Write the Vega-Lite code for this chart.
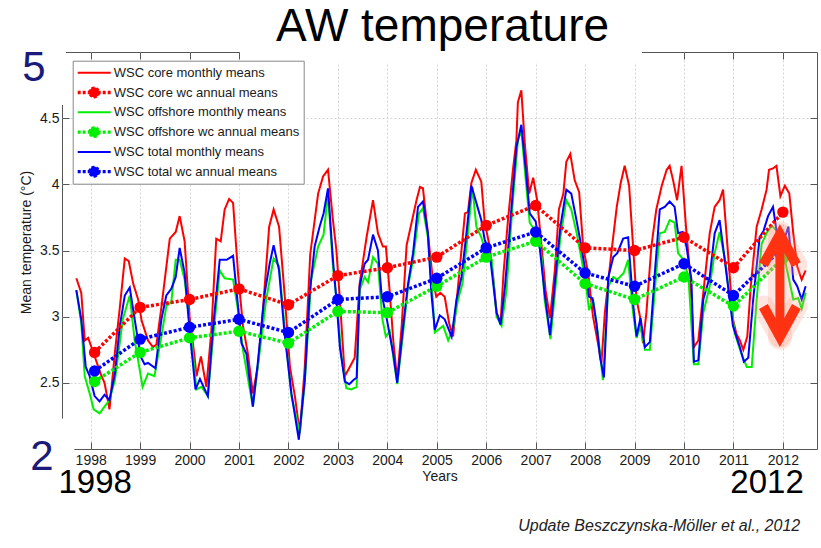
{
"$schema":"https://vega.github.io/schema/vega-lite/v6.json",
"width":755,"height":397,
"autosize":{"type":"none"},
"padding":{"left":62,"top":52,"right":4,"bottom":99},
"background":"white",
"config":{"view":{"stroke":"#555555","strokeWidth":1},"font":"Liberation Sans"},
"title":{"text":"AW temperature","fontSize":46,"fontWeight":"normal","color":"#000000","font":"Liberation Sans","anchor":"middle","offset":10,"dx":3,"dy":14},
"datasets":{
"monthly":[
{"series":"WSC core monthly means","year":1997.71,"temp":3.29},{"series":"WSC core monthly means","year":1997.81,"temp":3.18},{"series":"WSC core monthly means","year":1997.88,"temp":2.82},{"series":"WSC core monthly means","year":1997.95,"temp":2.84},{"series":"WSC core monthly means","year":1998.22,"temp":2.55},{"series":"WSC core monthly means","year":1998.28,"temp":2.5},{"series":"WSC core monthly means","year":1998.38,"temp":2.3},{"series":"WSC core monthly means","year":1998.49,"temp":2.73},{"series":"WSC core monthly means","year":1998.59,"temp":3.07},{"series":"WSC core monthly means","year":1998.69,"temp":3.44},{"series":"WSC core monthly means","year":1998.77,"temp":3.42},{"series":"WSC core monthly means","year":1998.86,"temp":3.25},{"series":"WSC core monthly means","year":1998.96,"temp":3.13},{"series":"WSC core monthly means","year":1999.03,"temp":2.97},{"series":"WSC core monthly means","year":1999.16,"temp":2.82},{"series":"WSC core monthly means","year":1999.26,"temp":2.77},{"series":"WSC core monthly means","year":1999.33,"temp":2.79},{"series":"WSC core monthly means","year":1999.43,"temp":3.07},{"series":"WSC core monthly means","year":1999.6,"temp":3.59},{"series":"WSC core monthly means","year":1999.72,"temp":3.64},{"series":"WSC core monthly means","year":1999.8,"temp":3.76},{"series":"WSC core monthly means","year":1999.9,"temp":3.57},{"series":"WSC core monthly means","year":2000.0,"temp":3.0},{"series":"WSC core monthly means","year":2000.1,"temp":2.7},{"series":"WSC core monthly means","year":2000.14,"temp":2.55},{"series":"WSC core monthly means","year":2000.23,"temp":2.7},{"series":"WSC core monthly means","year":2000.34,"temp":2.47},{"series":"WSC core monthly means","year":2000.44,"temp":2.89},{"series":"WSC core monthly means","year":2000.54,"temp":3.59},{"series":"WSC core monthly means","year":2000.63,"temp":3.57},{"series":"WSC core monthly means","year":2000.71,"temp":3.81},{"series":"WSC core monthly means","year":2000.8,"temp":3.89},{"series":"WSC core monthly means","year":2000.88,"temp":3.86},{"series":"WSC core monthly means","year":2000.98,"temp":3.33},{"series":"WSC core monthly means","year":2001.08,"temp":2.93},{"series":"WSC core monthly means","year":2001.18,"temp":2.72},{"series":"WSC core monthly means","year":2001.28,"temp":2.42},{"series":"WSC core monthly means","year":2001.38,"temp":2.62},{"series":"WSC core monthly means","year":2001.49,"temp":3.08},{"series":"WSC core monthly means","year":2001.61,"temp":3.68},{"series":"WSC core monthly means","year":2001.7,"temp":3.81},{"series":"WSC core monthly means","year":2001.81,"temp":3.68},{"series":"WSC core monthly means","year":2001.92,"temp":3.18},{"series":"WSC core monthly means","year":2002.03,"temp":2.62},{"series":"WSC core monthly means","year":2002.13,"temp":2.4},{"series":"WSC core monthly means","year":2002.23,"temp":2.12},{"series":"WSC core monthly means","year":2002.33,"temp":2.62},{"series":"WSC core monthly means","year":2002.44,"temp":3.47},{"series":"WSC core monthly means","year":2002.6,"temp":3.93},{"series":"WSC core monthly means","year":2002.7,"temp":4.06},{"series":"WSC core monthly means","year":2002.8,"temp":4.11},{"series":"WSC core monthly means","year":2002.9,"temp":3.73},{"series":"WSC core monthly means","year":2002.97,"temp":3.5},{"series":"WSC core monthly means","year":2003.04,"temp":3.13},{"series":"WSC core monthly means","year":2003.14,"temp":2.55},{"series":"WSC core monthly means","year":2003.24,"temp":2.62},{"series":"WSC core monthly means","year":2003.34,"temp":2.69},{"series":"WSC core monthly means","year":2003.44,"temp":3.25},{"series":"WSC core monthly means","year":2003.58,"temp":3.6},{"series":"WSC core monthly means","year":2003.71,"temp":3.88},{"series":"WSC core monthly means","year":2003.81,"temp":3.63},{"series":"WSC core monthly means","year":2003.91,"temp":3.53},{"series":"WSC core monthly means","year":2003.97,"temp":3.53},{"series":"WSC core monthly means","year":2004.05,"temp":3.18},{"series":"WSC core monthly means","year":2004.12,"temp":2.82},{"series":"WSC core monthly means","year":2004.2,"temp":2.52},{"series":"WSC core monthly means","year":2004.29,"temp":2.93},{"series":"WSC core monthly means","year":2004.39,"temp":3.54},{"series":"WSC core monthly means","year":2004.49,"temp":3.71},{"series":"WSC core monthly means","year":2004.59,"temp":3.88},{"series":"WSC core monthly means","year":2004.66,"temp":3.98},{"series":"WSC core monthly means","year":2004.72,"temp":3.97},{"series":"WSC core monthly means","year":2004.82,"temp":3.63},{"series":"WSC core monthly means","year":2004.92,"temp":3.28},{"series":"WSC core monthly means","year":2004.99,"temp":3.15},{"series":"WSC core monthly means","year":2005.07,"temp":3.18},{"series":"WSC core monthly means","year":2005.16,"temp":3.15},{"series":"WSC core monthly means","year":2005.25,"temp":2.95},{"series":"WSC core monthly means","year":2005.33,"temp":2.85},{"series":"WSC core monthly means","year":2005.43,"temp":3.23},{"series":"WSC core monthly means","year":2005.57,"temp":3.78},{"series":"WSC core monthly means","year":2005.63,"temp":3.79},{"series":"WSC core monthly means","year":2005.7,"temp":4.01},{"series":"WSC core monthly means","year":2005.79,"temp":4.11},{"series":"WSC core monthly means","year":2005.9,"temp":4.02},{"series":"WSC core monthly means","year":2005.97,"temp":3.71},{"series":"WSC core monthly means","year":2006.07,"temp":3.53},{"series":"WSC core monthly means","year":2006.14,"temp":3.3},{"series":"WSC core monthly means","year":2006.21,"temp":3.03},{"series":"WSC core monthly means","year":2006.29,"temp":2.95},{"series":"WSC core monthly means","year":2006.35,"temp":3.33},{"series":"WSC core monthly means","year":2006.44,"temp":3.73},{"series":"WSC core monthly means","year":2006.54,"temp":4.11},{"series":"WSC core monthly means","year":2006.61,"temp":4.33},{"series":"WSC core monthly means","year":2006.64,"temp":4.62},{"series":"WSC core monthly means","year":2006.71,"temp":4.71},{"series":"WSC core monthly means","year":2006.78,"temp":4.31},{"series":"WSC core monthly means","year":2006.87,"temp":3.93},{"series":"WSC core monthly means","year":2006.95,"temp":4.05},{"series":"WSC core monthly means","year":2007.03,"temp":3.88},{"series":"WSC core monthly means","year":2007.12,"temp":3.53},{"series":"WSC core monthly means","year":2007.2,"temp":3.2},{"series":"WSC core monthly means","year":2007.29,"temp":2.99},{"series":"WSC core monthly means","year":2007.39,"temp":3.36},{"series":"WSC core monthly means","year":2007.47,"temp":3.81},{"series":"WSC core monthly means","year":2007.56,"temp":3.93},{"series":"WSC core monthly means","year":2007.62,"temp":4.17},{"series":"WSC core monthly means","year":2007.7,"temp":4.23},{"series":"WSC core monthly means","year":2007.79,"temp":4.03},{"series":"WSC core monthly means","year":2007.88,"temp":3.94},{"series":"WSC core monthly means","year":2007.96,"temp":3.53},{"series":"WSC core monthly means","year":2008.06,"temp":3.33},{"series":"WSC core monthly means","year":2008.16,"temp":3.0},{"series":"WSC core monthly means","year":2008.26,"temp":2.8},{"series":"WSC core monthly means","year":2008.33,"temp":2.65},{"series":"WSC core monthly means","year":2008.4,"temp":3.03},{"series":"WSC core monthly means","year":2008.53,"temp":3.48},{"series":"WSC core monthly means","year":2008.64,"temp":3.83},{"series":"WSC core monthly means","year":2008.72,"temp":4.01},{"series":"WSC core monthly means","year":2008.8,"temp":4.14},{"series":"WSC core monthly means","year":2008.89,"temp":3.99},{"series":"WSC core monthly means","year":2008.97,"temp":3.53},{"series":"WSC core monthly means","year":2009.04,"temp":3.13},{"series":"WSC core monthly means","year":2009.11,"temp":3.0},{"series":"WSC core monthly means","year":2009.17,"temp":2.8},{"series":"WSC core monthly means","year":2009.24,"temp":3.03},{"series":"WSC core monthly means","year":2009.34,"temp":3.53},{"series":"WSC core monthly means","year":2009.44,"temp":3.81},{"series":"WSC core monthly means","year":2009.55,"temp":3.99},{"series":"WSC core monthly means","year":2009.65,"temp":4.11},{"series":"WSC core monthly means","year":2009.71,"temp":4.14},{"series":"WSC core monthly means","year":2009.78,"temp":4.03},{"series":"WSC core monthly means","year":2009.86,"temp":3.88},{"series":"WSC core monthly means","year":2009.95,"temp":4.14},{"series":"WSC core monthly means","year":2010.04,"temp":3.68},{"series":"WSC core monthly means","year":2010.12,"temp":3.33},{"series":"WSC core monthly means","year":2010.2,"temp":2.77},{"series":"WSC core monthly means","year":2010.29,"temp":2.82},{"series":"WSC core monthly means","year":2010.39,"temp":3.18},{"series":"WSC core monthly means","year":2010.52,"temp":3.63},{"series":"WSC core monthly means","year":2010.62,"temp":3.83},{"series":"WSC core monthly means","year":2010.72,"temp":3.88},{"series":"WSC core monthly means","year":2010.79,"temp":3.96},{"series":"WSC core monthly means","year":2010.89,"temp":3.48},{"series":"WSC core monthly means","year":2010.99,"temp":2.98},{"series":"WSC core monthly means","year":2011.06,"temp":2.87},{"series":"WSC core monthly means","year":2011.13,"temp":2.82},{"series":"WSC core monthly means","year":2011.2,"temp":2.75},{"series":"WSC core monthly means","year":2011.28,"temp":2.85},{"series":"WSC core monthly means","year":2011.35,"temp":3.23},{"series":"WSC core monthly means","year":2011.47,"temp":3.68},{"series":"WSC core monthly means","year":2011.57,"temp":3.81},{"series":"WSC core monthly means","year":2011.67,"temp":3.96},{"series":"WSC core monthly means","year":2011.72,"temp":4.11},{"series":"WSC core monthly means","year":2011.8,"temp":4.12},{"series":"WSC core monthly means","year":2011.87,"temp":4.14},{"series":"WSC core monthly means","year":2011.95,"temp":3.91},{"series":"WSC core monthly means","year":2012.04,"temp":3.99},{"series":"WSC core monthly means","year":2012.13,"temp":3.93},{"series":"WSC core monthly means","year":2012.21,"temp":3.63},{"series":"WSC core monthly means","year":2012.29,"temp":3.38},{"series":"WSC core monthly means","year":2012.38,"temp":3.28},{"series":"WSC core monthly means","year":2012.46,"temp":3.35},
{"series":"WSC offshore monthly means","year":1997.71,"temp":3.2},{"series":"WSC offshore monthly means","year":1997.81,"temp":2.95},{"series":"WSC offshore monthly means","year":1997.88,"temp":2.55},{"series":"WSC offshore monthly means","year":1997.98,"temp":2.42},{"series":"WSC offshore monthly means","year":1998.06,"temp":2.3},{"series":"WSC offshore monthly means","year":1998.18,"temp":2.27},{"series":"WSC offshore monthly means","year":1998.28,"temp":2.32},{"series":"WSC offshore monthly means","year":1998.38,"temp":2.37},{"series":"WSC offshore monthly means","year":1998.49,"temp":2.52},{"series":"WSC offshore monthly means","year":1998.65,"temp":2.98},{"series":"WSC offshore monthly means","year":1998.79,"temp":3.16},{"series":"WSC offshore monthly means","year":1998.89,"temp":2.82},{"series":"WSC offshore monthly means","year":1998.96,"temp":2.67},{"series":"WSC offshore monthly means","year":1999.05,"temp":2.47},{"series":"WSC offshore monthly means","year":1999.16,"temp":2.57},{"series":"WSC offshore monthly means","year":1999.29,"temp":2.55},{"series":"WSC offshore monthly means","year":1999.43,"temp":2.85},{"series":"WSC offshore monthly means","year":1999.53,"temp":3.08},{"series":"WSC offshore monthly means","year":1999.63,"temp":3.11},{"series":"WSC offshore monthly means","year":1999.72,"temp":3.43},{"series":"WSC offshore monthly means","year":1999.8,"temp":3.43},{"series":"WSC offshore monthly means","year":1999.9,"temp":3.28},{"series":"WSC offshore monthly means","year":2000.04,"temp":2.82},{"series":"WSC offshore monthly means","year":2000.14,"temp":2.45},{"series":"WSC offshore monthly means","year":2000.24,"temp":2.47},{"series":"WSC offshore monthly means","year":2000.37,"temp":2.4},{"series":"WSC offshore monthly means","year":2000.47,"temp":2.82},{"series":"WSC offshore monthly means","year":2000.61,"temp":3.35},{"series":"WSC offshore monthly means","year":2000.71,"temp":3.29},{"series":"WSC offshore monthly means","year":2000.88,"temp":3.28},{"series":"WSC offshore monthly means","year":2000.98,"temp":3.05},{"series":"WSC offshore monthly means","year":2001.08,"temp":2.75},{"series":"WSC offshore monthly means","year":2001.28,"temp":2.32},{"series":"WSC offshore monthly means","year":2001.38,"temp":2.62},{"series":"WSC offshore monthly means","year":2001.55,"temp":3.13},{"series":"WSC offshore monthly means","year":2001.7,"temp":3.44},{"series":"WSC offshore monthly means","year":2001.81,"temp":3.38},{"series":"WSC offshore monthly means","year":2001.96,"temp":2.77},{"series":"WSC offshore monthly means","year":2002.06,"temp":2.4},{"series":"WSC offshore monthly means","year":2002.23,"temp":2.12},{"series":"WSC offshore monthly means","year":2002.33,"temp":2.5},{"series":"WSC offshore monthly means","year":2002.46,"temp":3.28},{"series":"WSC offshore monthly means","year":2002.6,"temp":3.53},{"series":"WSC offshore monthly means","year":2002.71,"temp":3.62},{"series":"WSC offshore monthly means","year":2002.8,"temp":3.93},{"series":"WSC offshore monthly means","year":2002.9,"temp":3.38},{"series":"WSC offshore monthly means","year":2003.0,"temp":3.03},{"series":"WSC offshore monthly means","year":2003.07,"temp":2.7},{"series":"WSC offshore monthly means","year":2003.17,"temp":2.46},{"series":"WSC offshore monthly means","year":2003.27,"temp":2.45},{"series":"WSC offshore monthly means","year":2003.38,"temp":2.47},{"series":"WSC offshore monthly means","year":2003.44,"temp":3.2},{"series":"WSC offshore monthly means","year":2003.54,"temp":3.3},{"series":"WSC offshore monthly means","year":2003.61,"temp":3.26},{"series":"WSC offshore monthly means","year":2003.71,"temp":3.45},{"series":"WSC offshore monthly means","year":2003.81,"temp":3.4},{"series":"WSC offshore monthly means","year":2003.9,"temp":2.98},{"series":"WSC offshore monthly means","year":2003.97,"temp":2.85},{"series":"WSC offshore monthly means","year":2004.05,"temp":2.89},{"series":"WSC offshore monthly means","year":2004.13,"temp":2.67},{"series":"WSC offshore monthly means","year":2004.2,"temp":2.49},{"series":"WSC offshore monthly means","year":2004.32,"temp":2.88},{"series":"WSC offshore monthly means","year":2004.42,"temp":3.23},{"series":"WSC offshore monthly means","year":2004.52,"temp":3.43},{"series":"WSC offshore monthly means","year":2004.64,"temp":3.78},{"series":"WSC offshore monthly means","year":2004.72,"temp":3.82},{"series":"WSC offshore monthly means","year":2004.82,"temp":3.6},{"series":"WSC offshore monthly means","year":2004.91,"temp":3.18},{"series":"WSC offshore monthly means","year":2004.96,"temp":2.88},{"series":"WSC offshore monthly means","year":2005.06,"temp":2.91},{"series":"WSC offshore monthly means","year":2005.13,"temp":2.93},{"series":"WSC offshore monthly means","year":2005.23,"temp":2.82},{"series":"WSC offshore monthly means","year":2005.33,"temp":2.91},{"series":"WSC offshore monthly means","year":2005.43,"temp":3.13},{"series":"WSC offshore monthly means","year":2005.52,"temp":3.25},{"series":"WSC offshore monthly means","year":2005.63,"temp":3.63},{"series":"WSC offshore monthly means","year":2005.72,"temp":3.98},{"series":"WSC offshore monthly means","year":2005.8,"temp":3.68},{"series":"WSC offshore monthly means","year":2005.9,"temp":3.6},{"series":"WSC offshore monthly means","year":2006.0,"temp":3.48},{"series":"WSC offshore monthly means","year":2006.11,"temp":3.43},{"series":"WSC offshore monthly means","year":2006.21,"temp":3.0},{"series":"WSC offshore monthly means","year":2006.31,"temp":2.93},{"series":"WSC offshore monthly means","year":2006.41,"temp":3.2},{"series":"WSC offshore monthly means","year":2006.54,"temp":3.88},{"series":"WSC offshore monthly means","year":2006.64,"temp":4.33},{"series":"WSC offshore monthly means","year":2006.71,"temp":4.41},{"series":"WSC offshore monthly means","year":2006.8,"temp":4.03},{"series":"WSC offshore monthly means","year":2006.88,"temp":3.71},{"series":"WSC offshore monthly means","year":2007.02,"temp":3.63},{"series":"WSC offshore monthly means","year":2007.12,"temp":3.45},{"series":"WSC offshore monthly means","year":2007.18,"temp":3.13},{"series":"WSC offshore monthly means","year":2007.3,"temp":2.83},{"series":"WSC offshore monthly means","year":2007.39,"temp":3.18},{"series":"WSC offshore monthly means","year":2007.5,"temp":3.6},{"series":"WSC offshore monthly means","year":2007.62,"temp":3.88},{"series":"WSC offshore monthly means","year":2007.72,"temp":3.81},{"series":"WSC offshore monthly means","year":2007.83,"temp":3.63},{"series":"WSC offshore monthly means","year":2007.93,"temp":3.43},{"series":"WSC offshore monthly means","year":2008.03,"temp":3.2},{"series":"WSC offshore monthly means","year":2008.08,"temp":3.05},{"series":"WSC offshore monthly means","year":2008.16,"temp":3.13},{"series":"WSC offshore monthly means","year":2008.26,"temp":2.87},{"series":"WSC offshore monthly means","year":2008.36,"temp":2.52},{"series":"WSC offshore monthly means","year":2008.47,"temp":3.23},{"series":"WSC offshore monthly means","year":2008.57,"temp":3.3},{"series":"WSC offshore monthly means","year":2008.65,"temp":3.28},{"series":"WSC offshore monthly means","year":2008.78,"temp":3.33},{"series":"WSC offshore monthly means","year":2008.87,"temp":3.43},{"series":"WSC offshore monthly means","year":2008.97,"temp":3.03},{"series":"WSC offshore monthly means","year":2009.04,"temp":2.84},{"series":"WSC offshore monthly means","year":2009.12,"temp":2.93},{"series":"WSC offshore monthly means","year":2009.21,"temp":2.75},{"series":"WSC offshore monthly means","year":2009.31,"temp":2.75},{"series":"WSC offshore monthly means","year":2009.41,"temp":3.2},{"series":"WSC offshore monthly means","year":2009.51,"temp":3.63},{"series":"WSC offshore monthly means","year":2009.61,"temp":3.64},{"series":"WSC offshore monthly means","year":2009.71,"temp":3.73},{"series":"WSC offshore monthly means","year":2009.81,"temp":3.71},{"series":"WSC offshore monthly means","year":2009.88,"temp":3.48},{"series":"WSC offshore monthly means","year":2009.99,"temp":3.43},{"series":"WSC offshore monthly means","year":2010.09,"temp":3.3},{"series":"WSC offshore monthly means","year":2010.2,"temp":2.64},{"series":"WSC offshore monthly means","year":2010.29,"temp":2.64},{"series":"WSC offshore monthly means","year":2010.39,"temp":3.03},{"series":"WSC offshore monthly means","year":2010.52,"temp":3.23},{"series":"WSC offshore monthly means","year":2010.62,"temp":3.48},{"series":"WSC offshore monthly means","year":2010.72,"temp":3.64},{"series":"WSC offshore monthly means","year":2010.83,"temp":3.43},{"series":"WSC offshore monthly means","year":2010.93,"temp":3.13},{"series":"WSC offshore monthly means","year":2011.03,"temp":2.87},{"series":"WSC offshore monthly means","year":2011.16,"temp":2.72},{"series":"WSC offshore monthly means","year":2011.27,"temp":2.62},{"series":"WSC offshore monthly means","year":2011.37,"temp":2.62},{"series":"WSC offshore monthly means","year":2011.47,"temp":3.13},{"series":"WSC offshore monthly means","year":2011.57,"temp":3.55},{"series":"WSC offshore monthly means","year":2011.67,"temp":3.63},{"series":"WSC offshore monthly means","year":2011.77,"temp":3.69},{"series":"WSC offshore monthly means","year":2011.87,"temp":3.65},{"series":"WSC offshore monthly means","year":2012.04,"temp":3.43},{"series":"WSC offshore monthly means","year":2012.21,"temp":3.13},{"series":"WSC offshore monthly means","year":2012.31,"temp":3.14},{"series":"WSC offshore monthly means","year":2012.38,"temp":3.06},{"series":"WSC offshore monthly means","year":2012.46,"temp":3.18},
{"series":"WSC total monthly means","year":1997.71,"temp":3.2},{"series":"WSC total monthly means","year":1997.81,"temp":2.98},{"series":"WSC total monthly means","year":1997.9,"temp":2.62},{"series":"WSC total monthly means","year":1997.98,"temp":2.55},{"series":"WSC total monthly means","year":1998.08,"temp":2.4},{"series":"WSC total monthly means","year":1998.18,"temp":2.36},{"series":"WSC total monthly means","year":1998.28,"temp":2.41},{"series":"WSC total monthly means","year":1998.38,"temp":2.37},{"series":"WSC total monthly means","year":1998.49,"temp":2.57},{"series":"WSC total monthly means","year":1998.59,"temp":2.93},{"series":"WSC total monthly means","year":1998.69,"temp":3.16},{"series":"WSC total monthly means","year":1998.79,"temp":3.22},{"series":"WSC total monthly means","year":1998.89,"temp":2.98},{"series":"WSC total monthly means","year":1999.01,"temp":2.7},{"series":"WSC total monthly means","year":1999.09,"temp":2.64},{"series":"WSC total monthly means","year":1999.16,"temp":2.65},{"series":"WSC total monthly means","year":1999.31,"temp":2.61},{"series":"WSC total monthly means","year":1999.43,"temp":2.98},{"series":"WSC total monthly means","year":1999.53,"temp":3.16},{"series":"WSC total monthly means","year":1999.63,"temp":3.21},{"series":"WSC total monthly means","year":1999.72,"temp":3.3},{"series":"WSC total monthly means","year":1999.8,"temp":3.52},{"series":"WSC total monthly means","year":1999.9,"temp":3.33},{"series":"WSC total monthly means","year":2000.0,"temp":2.9},{"series":"WSC total monthly means","year":2000.12,"temp":2.45},{"series":"WSC total monthly means","year":2000.21,"temp":2.53},{"series":"WSC total monthly means","year":2000.37,"temp":2.4},{"series":"WSC total monthly means","year":2000.47,"temp":2.9},{"series":"WSC total monthly means","year":2000.61,"temp":3.43},{"series":"WSC total monthly means","year":2000.75,"temp":3.43},{"series":"WSC total monthly means","year":2000.88,"temp":3.46},{"series":"WSC total monthly means","year":2000.98,"temp":3.08},{"series":"WSC total monthly means","year":2001.05,"temp":2.8},{"series":"WSC total monthly means","year":2001.15,"temp":2.72},{"series":"WSC total monthly means","year":2001.28,"temp":2.32},{"series":"WSC total monthly means","year":2001.38,"temp":2.65},{"series":"WSC total monthly means","year":2001.52,"temp":3.18},{"series":"WSC total monthly means","year":2001.62,"temp":3.4},{"series":"WSC total monthly means","year":2001.7,"temp":3.54},{"series":"WSC total monthly means","year":2001.81,"temp":3.35},{"series":"WSC total monthly means","year":2001.92,"temp":2.88},{"series":"WSC total monthly means","year":2002.06,"temp":2.42},{"series":"WSC total monthly means","year":2002.21,"temp":2.07},{"series":"WSC total monthly means","year":2002.33,"temp":2.52},{"series":"WSC total monthly means","year":2002.43,"temp":3.18},{"series":"WSC total monthly means","year":2002.53,"temp":3.53},{"series":"WSC total monthly means","year":2002.63,"temp":3.68},{"series":"WSC total monthly means","year":2002.71,"temp":3.78},{"series":"WSC total monthly means","year":2002.8,"temp":3.97},{"series":"WSC total monthly means","year":2002.9,"temp":3.43},{"series":"WSC total monthly means","year":2002.97,"temp":3.13},{"series":"WSC total monthly means","year":2003.04,"temp":2.77},{"series":"WSC total monthly means","year":2003.14,"temp":2.51},{"series":"WSC total monthly means","year":2003.23,"temp":2.49},{"series":"WSC total monthly means","year":2003.31,"temp":2.52},{"series":"WSC total monthly means","year":2003.38,"temp":2.54},{"series":"WSC total monthly means","year":2003.44,"temp":3.23},{"series":"WSC total monthly means","year":2003.54,"temp":3.4},{"series":"WSC total monthly means","year":2003.61,"temp":3.43},{"series":"WSC total monthly means","year":2003.71,"temp":3.62},{"series":"WSC total monthly means","year":2003.81,"temp":3.5},{"series":"WSC total monthly means","year":2003.88,"temp":3.18},{"series":"WSC total monthly means","year":2003.98,"temp":3.0},{"series":"WSC total monthly means","year":2004.12,"temp":2.72},{"series":"WSC total monthly means","year":2004.2,"temp":2.5},{"series":"WSC total monthly means","year":2004.32,"temp":2.93},{"series":"WSC total monthly means","year":2004.42,"temp":3.25},{"series":"WSC total monthly means","year":2004.52,"temp":3.48},{"series":"WSC total monthly means","year":2004.62,"temp":3.83},{"series":"WSC total monthly means","year":2004.72,"temp":3.87},{"series":"WSC total monthly means","year":2004.82,"temp":3.63},{"series":"WSC total monthly means","year":2004.89,"temp":3.18},{"series":"WSC total monthly means","year":2004.96,"temp":2.9},{"series":"WSC total monthly means","year":2005.06,"temp":3.01},{"series":"WSC total monthly means","year":2005.16,"temp":2.98},{"series":"WSC total monthly means","year":2005.3,"temp":2.85},{"series":"WSC total monthly means","year":2005.4,"temp":3.13},{"series":"WSC total monthly means","year":2005.5,"temp":3.3},{"series":"WSC total monthly means","year":2005.6,"temp":3.63},{"series":"WSC total monthly means","year":2005.7,"temp":3.99},{"series":"WSC total monthly means","year":2005.8,"temp":3.86},{"series":"WSC total monthly means","year":2005.9,"temp":3.73},{"series":"WSC total monthly means","year":2005.97,"temp":3.58},{"series":"WSC total monthly means","year":2006.07,"temp":3.48},{"series":"WSC total monthly means","year":2006.21,"temp":3.03},{"series":"WSC total monthly means","year":2006.29,"temp":2.94},{"series":"WSC total monthly means","year":2006.38,"temp":3.23},{"series":"WSC total monthly means","year":2006.48,"temp":3.68},{"series":"WSC total monthly means","year":2006.61,"temp":4.28},{"series":"WSC total monthly means","year":2006.71,"temp":4.45},{"series":"WSC total monthly means","year":2006.8,"temp":4.11},{"series":"WSC total monthly means","year":2006.88,"temp":3.78},{"series":"WSC total monthly means","year":2007.0,"temp":3.72},{"series":"WSC total monthly means","year":2007.08,"temp":3.53},{"series":"WSC total monthly means","year":2007.18,"temp":3.18},{"series":"WSC total monthly means","year":2007.29,"temp":2.86},{"series":"WSC total monthly means","year":2007.39,"temp":3.26},{"series":"WSC total monthly means","year":2007.5,"temp":3.68},{"series":"WSC total monthly means","year":2007.62,"temp":3.96},{"series":"WSC total monthly means","year":2007.72,"temp":3.93},{"series":"WSC total monthly means","year":2007.81,"temp":3.76},{"series":"WSC total monthly means","year":2007.89,"temp":3.6},{"series":"WSC total monthly means","year":2007.99,"temp":3.38},{"series":"WSC total monthly means","year":2008.08,"temp":3.15},{"series":"WSC total monthly means","year":2008.15,"temp":3.14},{"series":"WSC total monthly means","year":2008.23,"temp":2.95},{"series":"WSC total monthly means","year":2008.3,"temp":2.7},{"series":"WSC total monthly means","year":2008.38,"temp":2.54},{"series":"WSC total monthly means","year":2008.47,"temp":3.3},{"series":"WSC total monthly means","year":2008.57,"temp":3.45},{"series":"WSC total monthly means","year":2008.65,"temp":3.48},{"series":"WSC total monthly means","year":2008.77,"temp":3.59},{"series":"WSC total monthly means","year":2008.87,"temp":3.6},{"series":"WSC total monthly means","year":2008.97,"temp":3.1},{"series":"WSC total monthly means","year":2009.04,"temp":2.85},{"series":"WSC total monthly means","year":2009.12,"temp":2.99},{"series":"WSC total monthly means","year":2009.21,"temp":2.77},{"series":"WSC total monthly means","year":2009.31,"temp":2.81},{"series":"WSC total monthly means","year":2009.41,"temp":3.33},{"series":"WSC total monthly means","year":2009.51,"temp":3.81},{"series":"WSC total monthly means","year":2009.61,"temp":3.83},{"series":"WSC total monthly means","year":2009.71,"temp":3.87},{"series":"WSC total monthly means","year":2009.81,"temp":3.83},{"series":"WSC total monthly means","year":2009.88,"temp":3.63},{"series":"WSC total monthly means","year":2009.97,"temp":3.64},{"series":"WSC total monthly means","year":2010.05,"temp":3.53},{"series":"WSC total monthly means","year":2010.15,"temp":3.28},{"series":"WSC total monthly means","year":2010.2,"temp":2.66},{"series":"WSC total monthly means","year":2010.29,"temp":2.67},{"series":"WSC total monthly means","year":2010.39,"temp":3.13},{"series":"WSC total monthly means","year":2010.52,"temp":3.3},{"series":"WSC total monthly means","year":2010.62,"temp":3.63},{"series":"WSC total monthly means","year":2010.72,"temp":3.73},{"series":"WSC total monthly means","year":2010.79,"temp":3.53},{"series":"WSC total monthly means","year":2010.89,"temp":3.23},{"series":"WSC total monthly means","year":2010.99,"temp":2.93},{"series":"WSC total monthly means","year":2011.13,"temp":2.77},{"series":"WSC total monthly means","year":2011.21,"temp":2.66},{"series":"WSC total monthly means","year":2011.3,"temp":2.69},{"series":"WSC total monthly means","year":2011.4,"temp":3.13},{"series":"WSC total monthly means","year":2011.53,"temp":3.6},{"series":"WSC total monthly means","year":2011.61,"temp":3.65},{"series":"WSC total monthly means","year":2011.7,"temp":3.76},{"series":"WSC total monthly means","year":2011.8,"temp":3.83},{"series":"WSC total monthly means","year":2011.88,"temp":3.63},{"series":"WSC total monthly means","year":2012.0,"temp":3.55},{"series":"WSC total monthly means","year":2012.11,"temp":3.68},{"series":"WSC total monthly means","year":2012.21,"temp":3.28},{"series":"WSC total monthly means","year":2012.29,"temp":3.23},{"series":"WSC total monthly means","year":2012.38,"temp":3.13},{"series":"WSC total monthly means","year":2012.46,"temp":3.23}
],
"annual":[
{"series":"WSC core wc annual means","year":1998.08,"temp":2.73},{"series":"WSC core wc annual means","year":1999,"temp":3.07},{"series":"WSC core wc annual means","year":2000,"temp":3.13},{"series":"WSC core wc annual means","year":2001,"temp":3.21},{"series":"WSC core wc annual means","year":2002,"temp":3.09},{"series":"WSC core wc annual means","year":2003,"temp":3.31},{"series":"WSC core wc annual means","year":2004,"temp":3.37},{"series":"WSC core wc annual means","year":2005,"temp":3.45},{"series":"WSC core wc annual means","year":2006,"temp":3.69},{"series":"WSC core wc annual means","year":2007,"temp":3.84},{"series":"WSC core wc annual means","year":2008,"temp":3.52},{"series":"WSC core wc annual means","year":2009,"temp":3.5},{"series":"WSC core wc annual means","year":2010,"temp":3.6},{"series":"WSC core wc annual means","year":2011,"temp":3.37},{"series":"WSC core wc annual means","year":2012,"temp":3.79},
{"series":"WSC offshore wc annual means","year":1998.08,"temp":2.51},{"series":"WSC offshore wc annual means","year":1999,"temp":2.73},{"series":"WSC offshore wc annual means","year":2000,"temp":2.84},{"series":"WSC offshore wc annual means","year":2001,"temp":2.89},{"series":"WSC offshore wc annual means","year":2002,"temp":2.8},{"series":"WSC offshore wc annual means","year":2003,"temp":3.04},{"series":"WSC offshore wc annual means","year":2004,"temp":3.03},{"series":"WSC offshore wc annual means","year":2005,"temp":3.23},{"series":"WSC offshore wc annual means","year":2006,"temp":3.45},{"series":"WSC offshore wc annual means","year":2007,"temp":3.57},{"series":"WSC offshore wc annual means","year":2008,"temp":3.25},{"series":"WSC offshore wc annual means","year":2009,"temp":3.13},{"series":"WSC offshore wc annual means","year":2010,"temp":3.3},{"series":"WSC offshore wc annual means","year":2011,"temp":3.08},{"series":"WSC offshore wc annual means","year":2012,"temp":3.44},
{"series":"WSC total wc annual means","year":1998.08,"temp":2.59},{"series":"WSC total wc annual means","year":1999,"temp":2.83},{"series":"WSC total wc annual means","year":2000,"temp":2.92},{"series":"WSC total wc annual means","year":2001,"temp":2.98},{"series":"WSC total wc annual means","year":2002,"temp":2.88},{"series":"WSC total wc annual means","year":2003,"temp":3.13},{"series":"WSC total wc annual means","year":2004,"temp":3.15},{"series":"WSC total wc annual means","year":2005,"temp":3.29},{"series":"WSC total wc annual means","year":2006,"temp":3.52},{"series":"WSC total wc annual means","year":2007,"temp":3.64},{"series":"WSC total wc annual means","year":2008,"temp":3.33},{"series":"WSC total wc annual means","year":2009,"temp":3.23},{"series":"WSC total wc annual means","year":2010,"temp":3.4},{"series":"WSC total wc annual means","year":2011,"temp":3.16},{"series":"WSC total wc annual means","year":2012,"temp":3.52}
]},
"layer":[
{"data":{"name":"monthly"},"mark":{"type":"line","strokeWidth":2},
 "encoding":{
  "x":{"field":"year","type":"quantitative","scale":{"domain":[1997.42,2012.69],"nice":false,"zero":false},
       "axis":{"orient":"bottom","values":[1998,1999,2000,2001,2002,2003,2004,2005,2006,2007,2008,2009,2010,2011,2012],"format":"d","title":"Years","grid":true,"gridColor":"#d4d4d4","gridDash":[2,2],"domain":false,"tickSize":-7,"tickColor":"#555555","labelFontSize":14,"labelColor":"#1a1a1a","labelPadding":11,"labelFlush":false,"labelOverlap":false,"titleFontSize":14,"titleFontWeight":"normal","titleColor":"#1a1a1a","titlePadding":2}},
  "y":{"field":"temp","type":"quantitative","scale":{"domain":[2,5],"nice":false,"zero":false},
       "axis":{"orient":"left","values":[2.5,3,3.5,4,4.5],"format":"~g","title":"Mean temperature (°C)","grid":true,"gridColor":"#d4d4d4","gridDash":[2,2],"domain":false,"tickSize":-7,"tickColor":"#555555","labelFontSize":14,"labelColor":"#1a1a1a","labelPadding":10,"titleFontSize":14,"titleFontWeight":"normal","titleColor":"#1a1a1a","titlePadding":6,"titleY":190}},
  "color":{"field":"series","type":"nominal",
       "scale":{"domain":["WSC core monthly means","WSC core wc annual means","WSC offshore monthly means","WSC offshore wc annual means","WSC total monthly means","WSC total wc annual means"],"range":["#ff0000","#ff0000","#00ee00","#00ee00","#0000ff","#0000ff"]},
       "legend":{"orient":"none","legendX":10.7,"legendY":8.7,"title":null,"fillColor":"white","strokeColor":"#888888","padding":4,"labelFontSize":13,"labelColor":"#1a1a1a","labelLimit":400,"labelOffset":2,"symbolType":"stroke","symbolSize":1089,"symbolStrokeWidth":2,"clipHeight":16,"rowPadding":3.8,
         "encode":{"symbols":{"update":{
            "shape":{"signal":"indexof(''+datum.label,'annual')>=0 ? 'M-1,-0.04L1,-0.04M-1,0.04L1,0.04M0.3,0A0.3,0.3,0,1,1,-0.3,0A0.3,0.3,0,1,1,0.3,0' : 'M0,-0.3M-1,0L1,0M0,0.3'"},
            "strokeDash":{"signal":"indexof(''+datum.label,'annual')>=0 ? [3,2] : [1,0]"},
            "fill":{"scale":"color","field":"value"},
            "fillOpacity":{"signal":"indexof(''+datum.label,'annual')>=0 ? 1 : 0"}}}}}}
 }},
{"data":{"name":"annual"},"mark":{"type":"line","strokeWidth":3.5,"strokeDash":[3,2]},
 "encoding":{
  "x":{"field":"year","type":"quantitative","axis":{"orient":"top","values":[1998,1999,2000,2001,2002,2003,2004,2005,2006,2007,2008,2009,2010,2011,2012],"labels":false,"title":null,"grid":false,"domain":false,"tickSize":-7,"tickColor":"#555555"}},
  "y":{"field":"temp","type":"quantitative","axis":{"orient":"right","values":[2.5,3,3.5,4,4.5],"labels":false,"title":null,"grid":false,"domain":false,"tickSize":-7,"tickColor":"#555555"}},
  "color":{"field":"series","type":"nominal"}
 }},
{"data":{"name":"annual"},"mark":{"type":"circle","size":130,"opacity":1},
 "encoding":{
  "x":{"field":"year","type":"quantitative","axis":null},
  "y":{"field":"temp","type":"quantitative","axis":null},
  "color":{"field":"series","type":"nominal"}
 }},
{"data":{"values":[{}]},"mark":{"type":"rect","color":"white","opacity":1},
 "encoding":{"x":{"datum":2001.02,"type":"quantitative","axis":null},"x2":{"datum":2009.15},
  "y":{"datum":4.92,"type":"quantitative","axis":null},"y2":{"datum":5.008}}},
{"data":{"values":[{}]},"mark":{"type":"rect","color":"white","opacity":1},
 "encoding":{"x":{"datum":1997.1,"type":"quantitative","axis":null},"x2":{"datum":1997.5},
  "y":{"datum":4.6,"type":"quantitative","axis":null},"y2":{"datum":5.02}}},
{"data":{"values":[{}]},"mark":{"type":"rect","color":"white","opacity":1},
 "encoding":{"x":{"datum":1997.1,"type":"quantitative","axis":null},"x2":{"datum":1997.67},
  "y":{"datum":1.96,"type":"quantitative","axis":null},"y2":{"datum":2.23}}},
{"data":{"values":[{}]},"mark":{"type":"rule","color":"#ff9a85","strokeWidth":24,"opacity":0.25,"strokeCap":"round"},
 "encoding":{"x":{"datum":2011.94,"type":"quantitative","axis":null},
  "y":{"datum":2.84,"type":"quantitative","axis":null},"y2":{"datum":3.63}}},
{"data":{"values":[{}]},"mark":{"type":"point","shape":"M-0.55,1L0,0L0.55,1","size":3600,"filled":false,"color":"#ff9a85","strokeWidth":22,"opacity":0.25,"strokeJoin":"round","strokeCap":"round"},
 "encoding":{"x":{"datum":2011.94,"type":"quantitative","axis":null},
  "y":{"datum":3.62,"type":"quantitative","axis":null}}},
{"data":{"values":[{}]},"mark":{"type":"point","shape":"M-0.55,-1L0,0L0.55,-1","size":3600,"filled":false,"color":"#ff9a85","strokeWidth":22,"opacity":0.25,"strokeJoin":"round","strokeCap":"round"},
 "encoding":{"x":{"datum":2011.94,"type":"quantitative","axis":null},
  "y":{"datum":2.85,"type":"quantitative","axis":null}}},
{"data":{"values":[{}]},"mark":{"type":"rule","color":"#ff3311","strokeWidth":9,"strokeCap":"butt"},
 "encoding":{"x":{"datum":2011.94,"type":"quantitative","axis":null},
  "y":{"datum":2.86,"type":"quantitative","axis":null},"y2":{"datum":3.61}}},
{"data":{"values":[{}]},"mark":{"type":"point","shape":"M-0.55,1L0,0L0.55,1","size":3600,"filled":false,"color":"#ff3311","strokeWidth":10,"opacity":1,"strokeJoin":"miter","strokeCap":"butt"},
 "encoding":{"x":{"datum":2011.94,"type":"quantitative","axis":null},
  "y":{"datum":3.62,"type":"quantitative","axis":null}}},
{"data":{"values":[{}]},"mark":{"type":"point","shape":"M-0.55,-1L0,0L0.55,-1","size":3600,"filled":false,"color":"#ff3311","strokeWidth":10,"opacity":1,"strokeJoin":"miter","strokeCap":"butt"},
 "encoding":{"x":{"datum":2011.94,"type":"quantitative","axis":null},
  "y":{"datum":2.85,"type":"quantitative","axis":null}}},
{"data":{"values":[{}]},"mark":{"type":"text","text":"5","fontSize":42,"color":"#1a1a7a","align":"center","baseline":"middle","font":"Liberation Sans"},
 "encoding":{"x":{"datum":1996.85,"type":"quantitative","axis":null},
  "y":{"datum":4.88,"type":"quantitative","axis":null}}},
{"data":{"values":[{}]},"mark":{"type":"text","text":"2","fontSize":42,"color":"#1a1a7a","align":"center","baseline":"middle","font":"Liberation Sans"},
 "encoding":{"x":{"datum":1997.015,"type":"quantitative","axis":null},
  "y":{"datum":1.94,"type":"quantitative","axis":null}}},
{"data":{"values":[{}]},"mark":{"type":"text","text":"1998","fontSize":33,"color":"#000000","align":"center","baseline":"middle","font":"Liberation Sans"},
 "encoding":{"x":{"datum":1998.09,"type":"quantitative","axis":null},
  "y":{"datum":1.74,"type":"quantitative","axis":null}}},
{"data":{"values":[{}]},"mark":{"type":"text","text":"2012","fontSize":33,"color":"#000000","align":"center","baseline":"middle","font":"Liberation Sans"},
 "encoding":{"x":{"datum":2011.68,"type":"quantitative","axis":null},
  "y":{"datum":1.74,"type":"quantitative","axis":null}}},
{"data":{"values":[{}]},"mark":{"type":"text","text":"Update Beszczynska-Möller et al., 2012","fontSize":16,"fontStyle":"italic","color":"#222222","align":"right","baseline":"middle","font":"Liberation Sans"},
 "encoding":{"x":{"datum":2012.35,"type":"quantitative","axis":null},
  "y":{"datum":1.418,"type":"quantitative","axis":null}}}
],
"resolve":{"axis":{"x":"independent","y":"independent"}}
}
